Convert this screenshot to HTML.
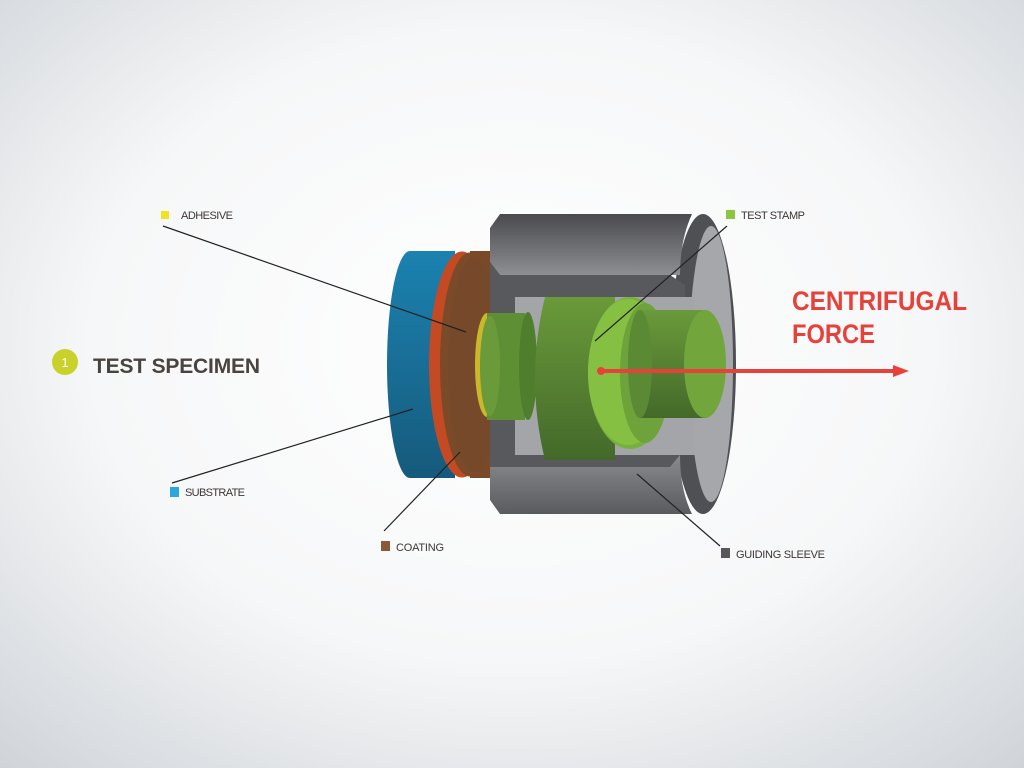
<!DOCTYPE html>
<html><head><meta charset="utf-8"><style>
html,body{margin:0;padding:0;width:1024px;height:768px;overflow:hidden}
svg{display:block}
text{font-family:"Liberation Sans",sans-serif}
</style></head><body>
<svg width="1024" height="768" viewBox="0 0 1024 768" xmlns="http://www.w3.org/2000/svg">
<defs>
<radialGradient id="bg" cx="50%" cy="45%" r="75%">
<stop offset="0" stop-color="#ffffff"/><stop offset="0.55" stop-color="#f6f7f8"/><stop offset="1" stop-color="#cfd3d8"/>
</radialGradient>
<linearGradient id="blue" x1="0" y1="0" x2="0" y2="1"><stop offset="0" stop-color="#1b82b0"/><stop offset="1" stop-color="#165a7c"/></linearGradient>
<linearGradient id="gtop" x1="0" y1="0" x2="0" y2="1"><stop offset="0" stop-color="#4a4a4e"/><stop offset="1" stop-color="#8e8f92"/></linearGradient>
<linearGradient id="gbot" x1="0" y1="0" x2="0" y2="1"><stop offset="0" stop-color="#8a8b8e"/><stop offset="1" stop-color="#5a5b5f"/></linearGradient>
<linearGradient id="gbody" x1="0" y1="0" x2="0" y2="1"><stop offset="0" stop-color="#6a9a3a"/><stop offset="1" stop-color="#44692a"/></linearGradient>
</defs>
<rect width="1024" height="768" fill="url(#bg)"/>
<!-- substrate -->
<rect x="410" y="251" width="45" height="227" fill="url(#blue)"/>
<ellipse cx="410" cy="364.5" rx="23" ry="113.5" fill="url(#blue)"/>
<!-- red coating -->
<ellipse cx="462" cy="364.5" rx="33" ry="113" fill="#c44a24"/>
<!-- brown coating -->
<rect x="470" y="251" width="30" height="227" fill="#7a4a28"/>
<ellipse cx="470" cy="364.5" rx="30" ry="112" fill="#7b4b29"/>
<ellipse cx="474" cy="364.5" rx="26" ry="108" fill="#76492a"/>
<!-- sleeve rim -->
<ellipse cx="703" cy="364" rx="33" ry="150" fill="#4f5054"/>
<ellipse cx="711" cy="364" rx="22" ry="138" fill="#a5a7aa"/>
<!-- sleeve top/bottom outer -->
<path d="M500,214 L692,214 Q680,240 680,275 L500,275 L490,262 L490,228 Z" fill="url(#gtop)"/>
<path d="M490,467 L500,455 L680,455 Q680,490 692,514 L500,514 L490,500 Z" fill="url(#gbot)"/>
<!-- interior -->
<rect x="515" y="297" width="180" height="158" fill="#a3a5a8"/>
<path d="M490,262 L500,275 L670,275 L685,285 L685,297 L515,297 L515,330 L490,330 Z" fill="#58595d"/>
<path d="M490,398 L515,398 L515,455 L680,455 L670,467 L500,467 L490,467 Z" fill="#58595d"/>
<!-- yellow adhesive -->
<ellipse cx="487" cy="365" rx="12" ry="52" fill="#c9b82c"/>
<!-- neck -->
<rect x="487" y="313" width="38" height="107" fill="#5f8f35"/>
<ellipse cx="490" cy="366" rx="10" ry="50" fill="#6a9a3a"/>
<ellipse cx="528" cy="366" rx="9" ry="54" fill="#4f7e2d"/>
<!-- big disc body -->
<path d="M545,297 L615,297 L615,460 L545,460 Q525,378 545,297 Z" fill="url(#gbody)"/>
<ellipse cx="630" cy="373" rx="42" ry="76" fill="#78b03c"/>
<ellipse cx="628" cy="372" rx="40" ry="73" fill="#86c043"/>
<ellipse cx="645" cy="373" rx="25" ry="70" fill="#6ea23a"/>
<!-- small cylinder -->
<rect x="640" y="310" width="67" height="108" fill="url(#gbody)"/>
<ellipse cx="640" cy="364" rx="12" ry="54" fill="#5a8a33"/>
<ellipse cx="705" cy="364" rx="21" ry="54" fill="#72a63c"/>
<!-- arrow -->
<line x1="601" y1="371" x2="895" y2="371" stroke="#e8413a" stroke-width="4"/>
<polygon points="893,365 909,371 893,377" fill="#e8413a"/>
<circle cx="601" cy="371" r="4" fill="#e8413a"/>
<!-- leaders -->
<g stroke="#222" stroke-width="1.2">
<line x1="163" y1="226" x2="466" y2="332"/>
<line x1="727" y1="226" x2="595" y2="341"/>
<line x1="172" y1="483" x2="413" y2="409"/>
<line x1="384" y1="531" x2="460" y2="452"/>
<line x1="720" y1="546" x2="637" y2="474"/>
</g>
<!-- labels -->
<g font-size="11" fill="#3c3634">
<rect x="161" y="211" width="8" height="8" fill="#f2e21e"/><text x="181" y="219" textLength="52">ADHESIVE</text>
<rect x="726" y="210" width="9" height="9" fill="#8cc540"/><text x="741" y="219" textLength="64">TEST STAMP</text>
<rect x="170" y="487" width="9" height="10" fill="#29a8e0"/><text x="185" y="496" textLength="60">SUBSTRATE</text>
<rect x="381" y="541" width="9" height="10" fill="#8a5a38"/><text x="396" y="551" textLength="48">COATING</text>
<rect x="721" y="548" width="9" height="10" fill="#58585c"/><text x="736" y="558" textLength="89">GUIDING SLEEVE</text>
</g>
<circle cx="65" cy="362" r="13" fill="#c9d22a"/>
<text x="65" y="367" font-size="13" fill="#fff" text-anchor="middle">1</text>
<text x="93" y="373" font-size="21" font-weight="bold" fill="#4a4340" textLength="167">TEST SPECIMEN</text>
<text x="792" y="310" font-size="27" font-weight="bold" fill="#e8413a" textLength="175" lengthAdjust="spacingAndGlyphs">CENTRIFUGAL</text>
<text x="792" y="343" font-size="27" font-weight="bold" fill="#e8413a" textLength="83" lengthAdjust="spacingAndGlyphs">FORCE</text>
</svg>
</body></html>
